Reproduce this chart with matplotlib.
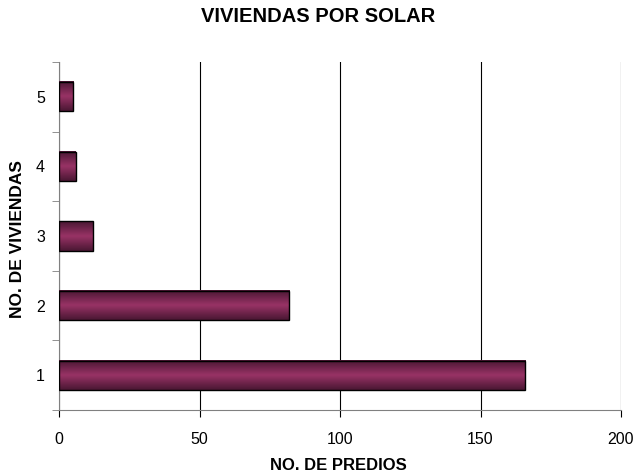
import numpy as np
import matplotlib
matplotlib.use("Agg")
import matplotlib.pyplot as plt
from matplotlib.colors import LinearSegmentedColormap

plt.rcParams["font.family"] = ["Liberation Sans", "DejaVu Sans"]

categorias = ["1", "2", "3", "4", "5"]
predios = [166, 82, 12, 6, 5]

fig = plt.figure(figsize=(6.34, 4.74), dpi=100)
ax = fig.add_axes([59 / 634, 1 - 410 / 474, 562 / 634, 348 / 474])

pos = np.arange(len(categorias))
alto = 0.42

# gradiente vertical de las barras (oscuro en bordes, claro al centro)
cmap = LinearSegmentedColormap.from_list("barra", ["#4a1733", "#993366", "#4a1733"])
grad = np.linspace(0, 1, 64).reshape(-1, 1)
for y, v in zip(pos, predios):
    ax.imshow(grad, cmap=cmap, aspect="auto", extent=(0, v, y - alto / 2, y + alto / 2),
              zorder=3, interpolation="bicubic")
    ax.barh(y, v, height=alto, color="none", edgecolor="black", linewidth=1.0, zorder=4)

ax.set_xlim(0, 200)
ax.set_ylim(-0.5, len(categorias) - 0.5)
ax.set_xticks([0, 50, 100, 150, 200])
ax.set_yticks(pos)
ax.set_yticklabels(categorias)
ax.set_yticks(np.arange(-0.5, len(categorias)), minor=True)
ax.tick_params(axis="y", which="major", length=0, pad=10, labelsize=11.5)
ax.tick_params(axis="y", which="minor", length=5, direction="out", color="#808080")
ax.tick_params(axis="x", length=5, direction="out", color="black", labelsize=11.5, pad=11)

ax.grid(True, axis="x", color="black", linewidth=0.8, zorder=1)
for s in ["top", "right"]:
    ax.spines[s].set_visible(False)
ax.spines["left"].set_color("#808080")
ax.spines["bottom"].set_color("#808080")

fig.text(338 / 634, 1 - 465 / 474, "NO. DE PREDIOS", ha="center", va="center",
         fontsize=12, fontweight="bold")
fig.text(17.5 / 634, 1 - 239 / 474, "NO. DE VIVIENDAS", ha="center", va="center",
         rotation=90, fontsize=12.5, fontweight="bold")
fig.text(318.5 / 634, 1 - 17 / 474, "VIVIENDAS POR SOLAR", ha="center", va="center",
         fontsize=14.5, fontweight="bold")

fig.savefig("out.png", dpi=100)
